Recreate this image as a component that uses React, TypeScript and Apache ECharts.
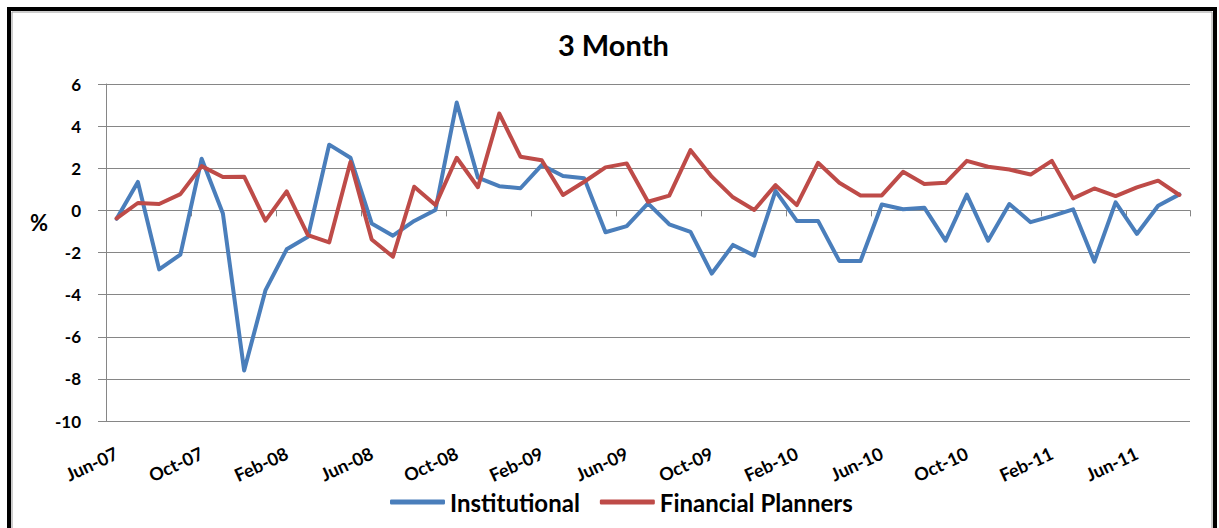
import React, { useEffect, useRef } from "react";
import * as echarts from "echarts";

const categories = [
  "Jun-07", "Jul-07", "Aug-07", "Sep-07", "Oct-07", "Nov-07", "Dec-07",
  "Jan-08", "Feb-08", "Mar-08", "Apr-08", "May-08", "Jun-08", "Jul-08", "Aug-08", "Sep-08", "Oct-08", "Nov-08", "Dec-08",
  "Jan-09", "Feb-09", "Mar-09", "Apr-09", "May-09", "Jun-09", "Jul-09", "Aug-09", "Sep-09", "Oct-09", "Nov-09", "Dec-09",
  "Jan-10", "Feb-10", "Mar-10", "Apr-10", "May-10", "Jun-10", "Jul-10", "Aug-10", "Sep-10", "Oct-10", "Nov-10", "Dec-10",
  "Jan-11", "Feb-11", "Mar-11", "Apr-11", "May-11", "Jun-11", "Jul-11", "Aug-11",
];

const institutional = [
  -0.4, 1.35, -2.8, -2.1, 2.45, -0.15, -7.6, -3.8, -1.85, -1.25,
  3.12, 2.5, -0.62, -1.2, -0.5, 0.02, 5.12, 1.55, 1.15, 1.05,
  2.15, 1.63, 1.52, -1.04, -0.75, 0.33, -0.66, -1.02, -3.0, -1.64,
  -2.15, 0.93, -0.5, -0.5, -2.4, -2.4, 0.28, 0.05, 0.13, -1.44,
  0.75, -1.44, 0.3, -0.56, -0.27, 0.05, -2.43, 0.38, -1.12, 0.22,
  0.76,
];

const financialPlanners = [
  -0.38, 0.35, 0.3, 0.77, 2.1, 1.58, 1.6, -0.49, 0.9, -1.17,
  -1.52, 2.3, -1.38, -2.2, 1.12, 0.25, 2.5, 1.1, 4.6, 2.55,
  2.38, 0.73, 1.36, 2.04, 2.23, 0.41, 0.7, 2.86, 1.6, 0.62,
  0.02, 1.2, 0.25, 2.26, 1.31, 0.71, 0.71, 1.83, 1.25, 1.31,
  2.35, 2.07, 1.94, 1.7, 2.35, 0.57, 1.04, 0.68, 1.09, 1.41,
  0.73,
];

const seriesNames = ["Institutional", "Financial Planners"];
const seriesColors = ["#4A7EBB", "#BE4B48"];

const FONT = "Lato, 'Open Sans', sans-serif";
const GRID_COLOR = "#868686";

export default function App() {
  const ref = useRef<HTMLDivElement>(null);

  useEffect(() => {
    if (!ref.current) return;
    const chart = echarts.init(ref.current, undefined, { renderer: "svg" });
    chart.setOption({
      animation: false,
      backgroundColor: "#ffffff",
      title: {
        text: "3 Month",
        left: 558,
        top: 30,
        padding: 0,
        textStyle: { fontFamily: FONT, fontSize: 29, fontWeight: "bold", color: "#000" },
      },
      graphic: [
        {
          type: "rect",
          shape: { x: 9, y: 9, width: 1206, height: 540 },
          style: { fill: "none", stroke: "#000", lineWidth: 4 },
          silent: true,
        },
        {
          type: "rect",
          shape: { x: 12, y: 12, width: 1200, height: 540 },
          style: { fill: "none", stroke: "#9a9a9a", lineWidth: 1 },
          silent: true,
        },
        {
          type: "text",
          x: 39,
          y: 222,
          style: {
            text: "%",
            font: `bold 22px ${FONT}`,
            fill: "#000",
            textAlign: "center",
            textVerticalAlign: "middle",
          },
        },
      ],
      legend: {
        left: 385,
        top: 485,
        itemWidth: 55,
        itemHeight: 5,
        itemGap: 20,
        icon: "roundRect",
        data: seriesNames,
        textStyle: { fontFamily: FONT, fontSize: 24, fontWeight: "bold", color: "#000" },
      },
      grid: { left: 106, right: 29, top: 84, bottom: 107, containLabel: false },
      xAxis: [
        {
          type: "category",
          data: categories,
          boundaryGap: true,
          position: "bottom",
          axisLine: { show: false, onZero: false },
          axisTick: { show: false },
          axisLabel: {
            interval: 3,
            rotate: 25,
            margin: 31,
            fontFamily: FONT,
            fontSize: 18,
            fontWeight: "bold",
            color: "#000",
          },
          splitLine: { show: false },
        },
        {
          type: "category",
          data: categories,
          boundaryGap: true,
          position: "bottom",
          axisLine: { show: true, onZero: true, lineStyle: { color: GRID_COLOR, width: 1 } },
          axisTick: { show: true, interval: 3, length: 6, lineStyle: { color: GRID_COLOR } },
          axisLabel: { show: false },
          splitLine: { show: false },
        },
      ],
      yAxis: {
        type: "value",
        min: -10,
        max: 6,
        interval: 2,
        axisLine: { show: true, lineStyle: { color: GRID_COLOR } },
        axisTick: { show: true, length: 8, lineStyle: { color: GRID_COLOR } },
        axisLabel: {
          margin: 25,
          fontFamily: FONT,
          fontSize: 17,
          fontWeight: "bold",
          color: "#000",
        },
        splitLine: { show: true, lineStyle: { color: GRID_COLOR, width: 1 } },
      },
      series: [
        {
          name: seriesNames[0],
          type: "line",
          data: institutional,
          xAxisIndex: 0,
          symbol: "none",
          color: seriesColors[0],
          lineStyle: { width: 4, color: seriesColors[0], join: "round", cap: "round" },
        },
        {
          name: seriesNames[1],
          type: "line",
          data: financialPlanners,
          xAxisIndex: 0,
          symbol: "none",
          color: seriesColors[1],
          lineStyle: { width: 4, color: seriesColors[1], join: "round", cap: "round" },
        },
      ],
    });
    return () => chart.dispose();
  }, []);

  return (
    <div
      ref={ref}
      style={{ position: "fixed", left: 0, top: 0, width: 1219, height: 528, background: "#fff" }}
    />
  );
}
